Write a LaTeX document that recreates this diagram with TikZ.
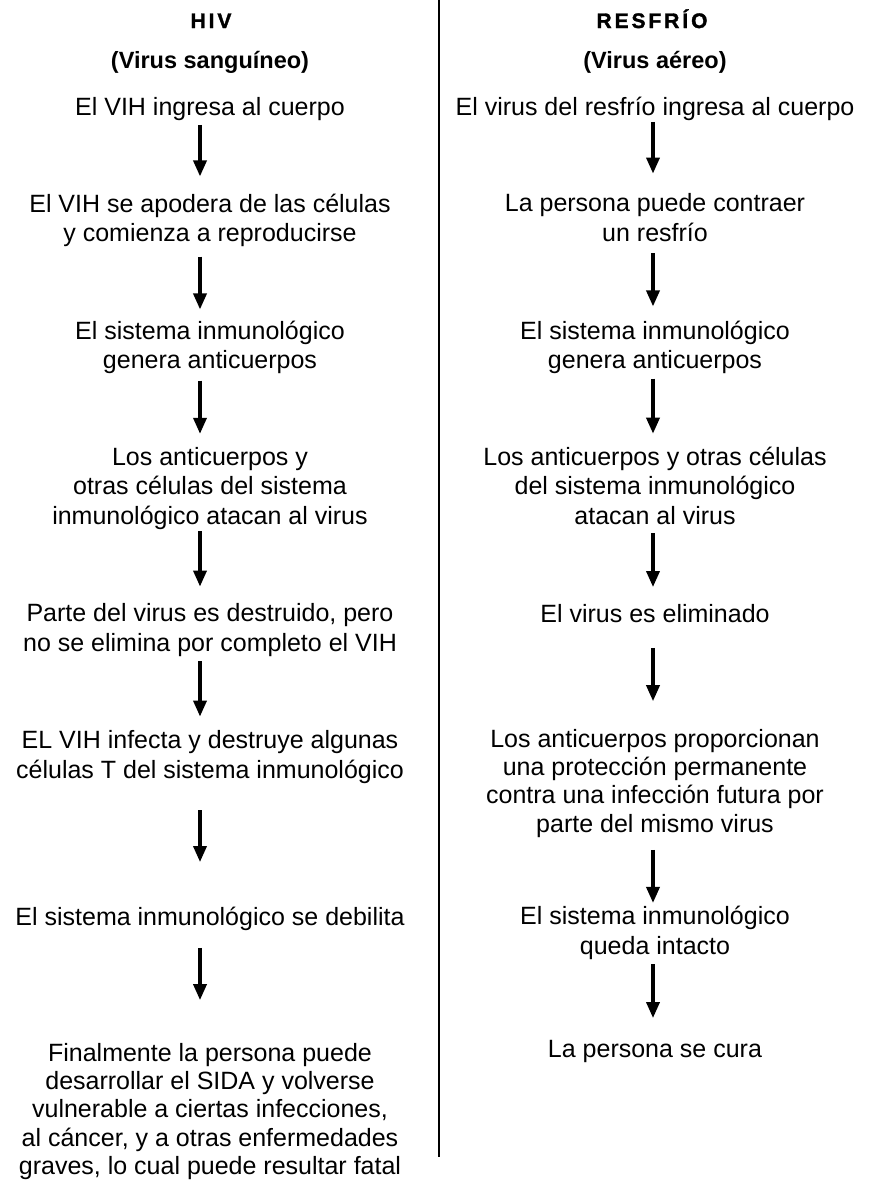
\documentclass[tikz,border=0pt]{standalone}
\usepackage{fontspec}
\setmainfont{Liberation Sans}
\newfontfamily\headfont[LetterSpace=14,FakeBold=1.6]{Liberation Sans Bold}
\usetikzlibrary{arrows.meta}

\begin{document}
\begin{tikzpicture}[x=1pt,y=-1pt]
\tikzstyle{paso}=[align=center,inner sep=0pt,font=\fontsize{25}{29.5}\selectfont,execute at begin node=\strut,execute at end node=\strut]
\tikzstyle{pasolargo}=[paso,font=\fontsize{25}{28.2}\selectfont]
\tikzstyle{titulo}=[inner sep=0pt,anchor=base,font=\headfont\fontsize{21}{25}\selectfont]
\tikzstyle{subtitulo}=[inner sep=0pt,anchor=base,font=\bfseries\fontsize{23.5}{28}\selectfont]
\tikzstyle{flecha}=[line width=3.5pt,-{Triangle[width=13pt,length=16pt]}]
\useasboundingbox (0,0) rectangle (870,1181);
\draw[line width=1.3pt] (439,0) -- (439,1157);
\node [titulo] (hiv) at (211,28) {HIV};
\node [titulo] (resfrio) at (652,28) {RESFRÍO};
\node [subtitulo] (sangre) at (210,68) {(Virus sanguíneo)};
\node [subtitulo] (aire) at (655,68) {(Virus aéreo)};
% columna del VIH
\node [paso] (v1) at (210,110) {El VIH ingresa al cuerpo};
\node [paso] (v2) at (210,222) {El VIH se apodera de las células\\y comienza a reproducirse};
\node [paso] (v3) at (210,349) {El sistema inmunológico\\genera anticuerpos};
\node [paso] (v4) at (210,490) {Los anticuerpos y\\otras células del sistema\\inmunológico atacan al virus};
\node [paso] (v5) at (210,632) {Parte del virus es destruido, pero\\no se elimina por completo el VIH};
\node [paso] (v6) at (210,759) {EL VIH infecta y destruye algunas\\células T del sistema inmunológico};
\node [paso] (v7) at (210,920) {El sistema inmunológico se debilita};
\node [pasolargo] (v8) at (210,1113) {Finalmente la persona puede\\desarrollar el SIDA y volverse\\vulnerable a ciertas infecciones,\\al cáncer, y a otras enfermedades\\graves, lo cual puede resultar fatal};
% columna del resfrio
\node [paso] (r1) at (655,110) {El virus del resfrío ingresa al cuerpo};
\node [paso] (r2) at (655,222) {La persona puede contraer\\un resfrío};
\node [paso] (r3) at (655,349) {El sistema inmunológico\\genera anticuerpos};
\node [paso] (r4) at (655,490) {Los anticuerpos y otras células\\del sistema inmunológico\\atacan al virus};
\node [paso] (r5) at (655,617) {El virus es eliminado};
\node [pasolargo] (r6) at (655,785) {Los anticuerpos proporcionan\\una protección permanente\\contra una infección futura por\\parte del mismo virus};
\node [paso] (r7) at (655,934.5) {El sistema inmunológico\\queda intacto};
\node [paso] (r8) at (655,1052) {La persona se cura};
% flechas
\draw [flecha,shorten <=0pt,shorten >=17pt] ([xshift=-10pt]v1.south) -- ([xshift=-10pt]v2.north);
\draw [flecha,shorten <=6pt,shorten >=11pt] ([xshift=-10pt]v2.south) -- ([xshift=-10pt]v3.north);
\draw [flecha,shorten <=3pt,shorten >=13pt] ([xshift=-10pt]v3.south) -- ([xshift=-10pt]v4.north);
\draw [flecha,shorten <=-2pt,shorten >=17pt] ([xshift=-10pt]v4.south) -- ([xshift=-10pt]v5.north);
\draw [flecha,shorten <=1pt,shorten >=14pt] ([xshift=-10pt]v5.south) -- ([xshift=-10pt]v6.north);
\draw [flecha,shorten <=23pt,shorten >=43pt] ([xshift=-10pt]v6.south) -- ([xshift=-10pt]v7.north);
\draw [flecha,shorten <=13pt,shorten >=43pt] ([xshift=-10pt]v7.south) -- ([xshift=-10pt]v8.north);
\draw [flecha,shorten <=-3pt,shorten >=20pt] ([xshift=-2pt]r1.south) -- ([xshift=-2pt]r2.north);
\draw [flecha,shorten <=3pt,shorten >=14pt] ([xshift=-2pt]r2.south) -- ([xshift=-2pt]r3.north);
\draw [flecha,shorten <=1pt,shorten >=13pt] ([xshift=-2pt]r3.south) -- ([xshift=-2pt]r4.north);
\draw [flecha,shorten <=0pt,shorten >=15pt] ([xshift=-2pt]r4.south) -- ([xshift=-2pt]r5.north);
\draw [flecha,shorten <=16pt,shorten >=28pt] ([xshift=-2pt]r5.south) -- ([xshift=-2pt]r6.north);
\draw [flecha,shorten <=9pt,shorten >=3pt] ([xshift=-2pt]r6.south) -- ([xshift=-2pt]r7.north);
\draw [flecha,shorten <=1pt,shorten >=19pt] ([xshift=-2pt]r7.south) -- ([xshift=-2pt]r8.north);
\end{tikzpicture}
\end{document}
